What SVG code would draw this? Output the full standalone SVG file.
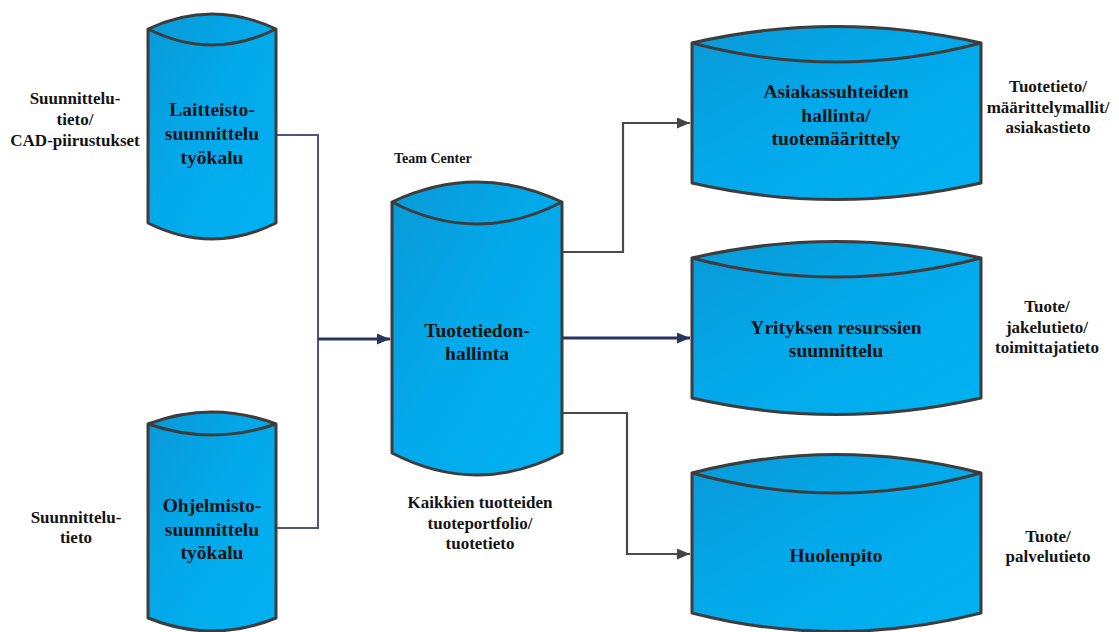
<svg xmlns="http://www.w3.org/2000/svg" width="1119" height="632" viewBox="0 0 1119 632">
  <defs>
    <linearGradient id="cylFill" x1="0" y1="0" x2="1" y2="1">
      <stop offset="0" stop-color="#0a99d7"/>
      <stop offset="0.45" stop-color="#03a9ea"/>
      <stop offset="1" stop-color="#00b2f2"/>
    </linearGradient>
    <marker id="arrowNavy" viewBox="0 0 13 11" refX="13" refY="5.5" markerWidth="13" markerHeight="11" markerUnits="userSpaceOnUse" orient="auto">
      <path d="M0,0 L13,5.5 L0,11 z" fill="#27355f"/>
    </marker>
    <marker id="arrowGrey" viewBox="0 0 13 11" refX="13" refY="5.5" markerWidth="13" markerHeight="11" markerUnits="userSpaceOnUse" orient="auto">
      <path d="M0,0 L13,5.5 L0,11 z" fill="#454545"/>
    </marker>
  </defs>
  <style>
    .cyl { fill: url(#cylFill); stroke: #3d3d3d; stroke-width: 3; stroke-linejoin: round; }
    .rim { fill: none; stroke: #3d3d3d; stroke-width: 3; }
    text { font-family: 'Liberation Serif', 'Times New Roman', 'DejaVu Serif', serif; font-weight: bold; fill: #141414; text-anchor: middle; }
    .big { font-size: 19.5px; }
    .mid { font-size: 17px; }
    .navy { fill: none; stroke: #27355f; stroke-width: 3; }
    .feed { fill: none; stroke: #4e5488; stroke-width: 2; }
    .grey { fill: none; stroke: #4a4a4a; stroke-width: 2.2; }
  </style>
  <rect width="1119" height="632" fill="#ffffff"/>

  <!-- connectors -->
  <g id="connectors">
    <path class="feed" d="M276,135 H318 V528 H276"/>
    <path class="navy" d="M318,339 H390" marker-end="url(#arrowNavy)"/>
    <path class="grey" d="M562,252 H623 V123 H690" marker-end="url(#arrowGrey)"/>
    <path class="navy" d="M562,338 H690" marker-end="url(#arrowNavy)"/>
    <path class="grey" d="M562,413 H627 V554 H690" marker-end="url(#arrowGrey)"/>
  </g>

  <g font-family="Liberation Serif, Times New Roman, serif" font-weight="bold">
  <!-- design tools -->
  <g id="hw-tool">
    <path class="cyl" d="M148,29 Q212,-1 276,29 V223 Q212,255 148,223 Z"/>
    <path class="rim" d="M148,29 Q212,61 276,29"/>
    <text class="big" x="212" y="116">Laitteisto-</text>
    <text class="big" x="212" y="140">suunnittelu</text>
    <text class="big" x="212" y="164">työkalu</text>
  </g>
  <g id="sw-tool">
    <path class="cyl" d="M148,424 Q212,400 276,424 V618 Q212,644 148,618 Z"/>
    <path class="rim" d="M148,424 Q212,446 276,424"/>
    <text class="big" x="212" y="512">Ohjelmisto-</text>
    <text class="big" x="212" y="536">suunnittelu</text>
    <text class="big" x="212" y="559">työkalu</text>
  </g>

  <!-- product data management -->
  <g id="pdm">
    <text x="394" y="163" font-size="14" style="text-anchor:start">Team Center</text>
    <path class="cyl" d="M392,202 Q477,162 562,202 V453 Q477,497 392,453 Z"/>
    <path class="rim" d="M392,202 Q477,246 562,202"/>
    <text class="big" x="477" y="337">Tuotetiedon-</text>
    <text class="big" x="477" y="360">hallinta</text>
    <text class="mid" x="480" y="508">Kaikkien tuotteiden</text>
    <text class="mid" x="480" y="529">tuoteportfolio/</text>
    <text class="mid" x="480" y="549">tuotetieto</text>
  </g>

  <!-- downstream systems -->
  <g id="crm">
    <path class="cyl" d="M692,43 Q836,10 981,43 V183 Q836,216 692,183 Z"/>
    <path class="rim" d="M692,43 Q836,81 981,43"/>
    <text class="big" x="836" y="98">Asiakassuhteiden</text>
    <text class="big" x="836" y="122">hallinta/</text>
    <text class="big" x="836" y="145">tuotemäärittely</text>
  </g>
  <g id="erp">
    <path class="cyl" d="M692,258 Q836,225 981,258 V398 Q836,431 692,398 Z"/>
    <path class="rim" d="M692,258 Q836,296 981,258"/>
    <text class="big" x="836" y="334">Yrityksen resurssien</text>
    <text class="big" x="836" y="357">suunnittelu</text>
  </g>
  <g id="service">
    <path class="cyl" d="M692,473 Q836,436 981,473 V613 Q836,650 692,613 Z"/>
    <path class="rim" d="M692,473 Q836,513 981,473"/>
    <text class="big" x="836" y="562">Huolenpito</text>
  </g>

  <!-- data labels -->
  <g id="labels">
    <text class="mid" x="75" y="104">Suunnittelu-</text>
    <text class="mid" x="75" y="125">tieto/</text>
    <text class="mid" x="75" y="146">CAD-piirustukset</text>
    <text class="mid" x="76" y="523">Suunnittelu-</text>
    <text class="mid" x="76" y="543">tieto</text>
    <text class="mid" x="1048" y="92">Tuotetieto/</text>
    <text class="mid" x="1048" y="113">määrittelymallit/</text>
    <text class="mid" x="1048" y="133">asiakastieto</text>
    <text class="mid" x="1047" y="312">Tuote/</text>
    <text class="mid" x="1047" y="333">jakelutieto/</text>
    <text class="mid" x="1047" y="353">toimittajatieto</text>
    <text class="mid" x="1048" y="542">Tuote/</text>
    <text class="mid" x="1048" y="562">palvelutieto</text>
  </g>
  </g>
</svg>
